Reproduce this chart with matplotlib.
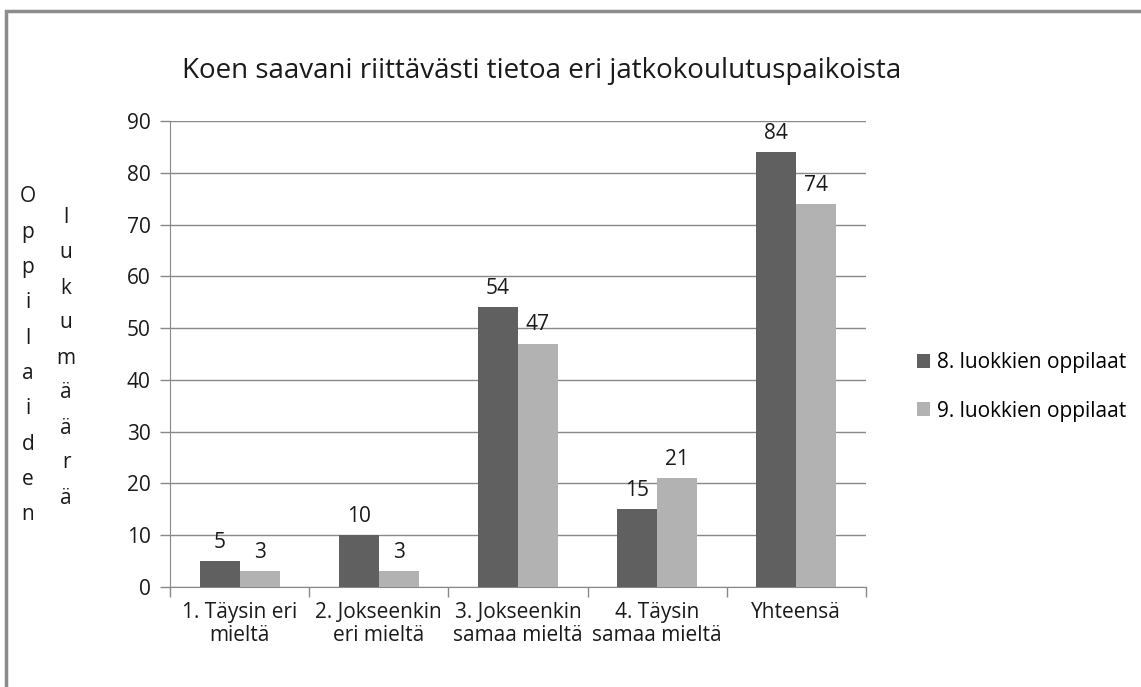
import matplotlib
matplotlib.use("Agg")
import matplotlib.pyplot as plt
import numpy as np
from matplotlib.patches import Rectangle

plt.rcParams['font.family'] = ['Open Sans', 'DejaVu Sans']

categories = ['1. Täysin eri\nmieltä', '2. Jokseenkin\neri mieltä',
              '3. Jokseenkin\nsamaa mieltä', '4. Täysin\nsamaa mieltä', 'Yhteensä']
luokka8 = [5, 10, 54, 15, 84]
luokka9 = [3, 3, 47, 21, 74]
series_names = ['8. luokkien oppilaat', '9. luokkien oppilaat']
yticks = list(range(0, 100, 10))

dark = '#606060'
light = '#b2b2b2'
grid_c = '#888888'
txt_c = '#1a1a1a'
fs = 15

W, H = 1141, 687
fig = plt.figure(figsize=(W / 100, H / 100), dpi=100)
ax = fig.add_axes([170 / W, 1 - 587 / H, 696 / W, 466 / H])

x = np.arange(len(categories))
bw = 0.287
b1 = ax.bar(x - bw / 2, luokka8, bw, color=dark, label=series_names[0], zorder=3)
b2 = ax.bar(x + bw / 2, luokka9, bw, color=light, label=series_names[1], zorder=3)

for bars in (b1, b2):
    for r in bars:
        ax.annotate(str(int(r.get_height())), (r.get_x() + r.get_width() / 2, r.get_height()),
                    xytext=(0, 6), textcoords='offset points', ha='center', va='bottom',
                    fontsize=fs, color=txt_c)

ax.set_xlim(-0.5, len(categories) - 0.5)
ax.set_ylim(0, 90)
ax.set_yticks(yticks)
ax.yaxis.grid(True, color=grid_c, linewidth=1, zorder=0)
ax.set_xticks(x)
ax.set_xticklabels(categories, fontsize=fs, color=txt_c, linespacing=1.1)
ax.set_xticks(np.arange(-0.5, len(categories)), minor=True)
ax.tick_params(axis='x', which='major', length=0, pad=11)
ax.tick_params(axis='x', which='minor', length=7, color=grid_c, width=1)
ax.tick_params(axis='y', length=7, color=grid_c, width=1, labelsize=fs, labelcolor=txt_c, pad=7)
for s in ['top', 'right']:
    ax.spines[s].set_visible(False)
for s in ['left', 'bottom']:
    ax.spines[s].set_color(grid_c)

fig.text(542 / W, 1 - 71 / H, 'Koen saavani riittävästi tietoa eri jatkokoulutuspaikoista',
         ha='center', va='center', fontsize=20, color=txt_c)

# pystysuuntainen y-akselin otsikko kirjain kerrallaan
for i, ch in enumerate('Oppilaiden'):
    fig.text(28 / W, 1 - (197 + i * 35.3) / H, ch, ha='center', va='center',
             fontsize=fs, color=txt_c)
for i, ch in enumerate('lukumäärä'):
    fig.text(66 / W, 1 - (218 + i * 35) / H, ch, ha='center', va='center',
             fontsize=fs, color=txt_c)

ax.legend(loc='center left', bbox_to_anchor=(898 / W, 1 - 387 / H),
          bbox_transform=fig.transFigure, frameon=False, fontsize=fs,
          handlelength=0.65, handleheight=0.65, handletextpad=0.3, labelspacing=1.3)

fig.patches.append(Rectangle((6 / W, -0.1), 1.2, 1 - 11 / H + 0.1, transform=fig.transFigure,
                             fill=False, edgecolor='#8c8c8c', linewidth=2.5))

fig.savefig('out.png', dpi=100)
